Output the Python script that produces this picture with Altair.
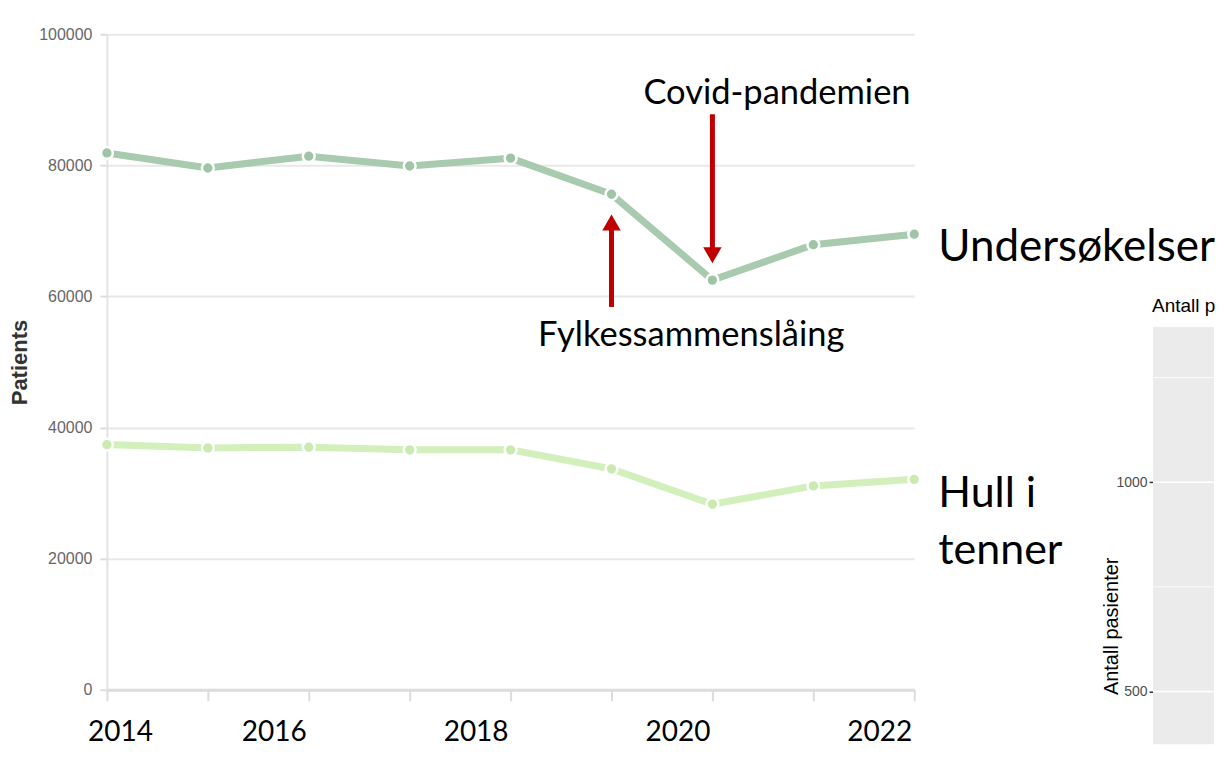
import altair as alt
import pandas as pd

# ---------------- data ----------------
years = [2014, 2015, 2016, 2017, 2018, 2019, 2020, 2021, 2022]
undersokelser = [81900, 79600, 81400, 79900, 81100, 75600, 62500, 67900, 69500]
hull_i_tenner = [37400, 36900, 37000, 36600, 36600, 33700, 28300, 31100, 32100]

series_names = ["Undersøkelser", "Hull i tenner"]
series_labels = ["Undersøkelser", "Hull i\ntenner"]
series_colors = ["#a8caae", "#d3efbb"]
point_colors = ["#9fc5a6", "#c9eab0"]

y_ticks = [0, 20000, 40000, 60000, 80000, 100000]
x_ticks = years

ann_texts = ["Covid-pandemien", "Fylkessammenslåing"]
ann_years = [2020.64, 2019.79]
ann_values = [89300, 52500]

arrow_years = [2020, 2019]
arrow_from = [87800, 58400]
arrow_to = [66300, 71300]
arrow_heads = ["triangle-down", "triangle-up"]

# fragment of a second (cropped) chart at the right edge
panel_title = ["Antall pasienter"]
panel_title_value = [1406]
panel_top = [1371]
panel_bottom = [374]
panel_domain = [399, 2070.4]
panel_ticks = [500, 1000]
panel_major = [500, 1000]
panel_minor = [750, 1250]

# ---------------- tables ----------------
rows = []
for name, label, vals in [(series_names[0], series_labels[0], undersokelser),
                          (series_names[1], series_labels[1], hull_i_tenner)]:
    for yr, v in zip(years, vals):
        rows.append({"year": yr, "value": v, "series": name, "label": label})
df = pd.DataFrame(rows)
last = df[df["year"] == years[-1]]

ann_df = pd.DataFrame({"text": ann_texts, "year": ann_years, "value": ann_values})
arrow_df = pd.DataFrame({"year": arrow_years, "v0": arrow_from, "v1": arrow_to, "head": arrow_heads})

FONT_T = "Lato"
FONT_A = "Liberation Sans"

x_enc = alt.X(
    "year:Q",
    scale=alt.Scale(domain=[years[0], years[-1]], nice=False, zero=False),
    axis=alt.Axis(
        values=x_ticks, format="d", title=None, grid=False,
        labelExpr="datum.value % 2 == 0 ? datum.label : ''",
        labelFont=FONT_T, labelFontSize=28, labelColor="black",
        labelAlign="center",
        labelOffset={"condition": {"test": "datum.value == 2014", "value": 13}, "value": -35},
        labelPadding=18, labelFlush=False, labelOverlap=False,
        domainColor="#dcdcdc", domainWidth=3,
        tickColor="#dcdcdc", tickWidth=2, tickSize=11,
    ),
)
y_enc = alt.Y(
    "value:Q",
    scale=alt.Scale(domain=[0, 100000], nice=False),
    axis=alt.Axis(
        values=y_ticks, format="d", title="Patients",
        titleFont=FONT_A, titleFontSize=22, titleFontWeight="bold", titleColor="#333333",
        titlePadding=7,
        labelFont=FONT_A, labelFontSize=16, labelColor="#666666", labelPadding=8,
        domainColor="#e3e3e3", domainWidth=2,
        tickColor="#dcdcdc", tickWidth=2, tickSize=7,
        grid=True, gridColor="#e8e8e8", gridWidth=2,
    ),
)
color_line = alt.Color("series:N", scale=alt.Scale(domain=series_names, range=series_colors), legend=None)

base = alt.Chart(df)
lines = base.mark_line(strokeWidth=7, strokeCap="round").encode(x=x_enc, y=y_enc, color=color_line)
points = base.mark_circle(size=140, opacity=1, stroke="white", strokeWidth=2.5).encode(
    x="year:Q", y="value:Q",
    fill=alt.Fill("series:N", scale=alt.Scale(domain=series_names, range=point_colors), legend=None),
)

lab1 = alt.Chart(last[last["series"] == series_names[0]]).mark_text(
    align="left", baseline="alphabetic", dx=24, dy=27, font=FONT_T, fontSize=44, color="black"
).encode(x="year:Q", y="value:Q", text="label:N")
lab2 = alt.Chart(last[last["series"] == series_names[1]]).mark_text(
    align="left", baseline="alphabetic", dx=24, dy=28, font=FONT_T, fontSize=43, color="black",
    lineBreak="\n", lineHeight=57
).encode(x="year:Q", y="value:Q", text="label:N")

ann = alt.Chart(ann_df).mark_text(
    align="center", baseline="alphabetic", font=FONT_T, fontSize=34.5, color="black"
).encode(x="year:Q", y="value:Q", text="text:N")

shafts = alt.Chart(arrow_df).mark_rule(color="#c00000", strokeWidth=5, strokeCap="butt").encode(
    x="year:Q", y="v0:Q", y2="v1:Q"
)
heads = alt.Chart(arrow_df).mark_point(filled=True, opacity=1, size=340, color="#c00000", strokeWidth=0).encode(
    x="year:Q", y="v1:Q",
    shape=alt.Shape("head:N", scale=alt.Scale(domain=arrow_heads, range=arrow_heads), legend=None),
)

main = alt.layer(lines, points, shafts, heads, ann, lab1, lab2).properties(width=808, height=656)

# ---------------- cropped right-hand chart ----------------
panel_df = pd.DataFrame({"x0": [0], "x1": [1], "top": panel_top, "bottom": panel_bottom,
                         "title": panel_title, "tv": panel_title_value})
grid_df = pd.DataFrame({
    "v": panel_major + panel_minor,
    "w": [1.6] * len(panel_major) + [0.8] * len(panel_minor),
    "x0": 0, "x1": 1,
})

px = alt.X("x0:Q", scale=alt.Scale(domain=[0, 1], nice=False, zero=False), axis=None)
py_scale = alt.Scale(domain=panel_domain, nice=False, zero=False)

rect = alt.Chart(panel_df).mark_rect(color="#ebebeb").encode(
    x=px, x2="x1:Q",
    y=alt.Y("top:Q", scale=py_scale, axis=alt.Axis(
        values=panel_ticks, format="d", title="Antall pasienter", grid=False, domain=False,
        labelFont=FONT_A, labelFontSize=14, labelColor="#4d4d4d", labelPadding=2,
        tickColor="#333333", tickSize=4, tickWidth=1.5,
        titleFont=FONT_A, titleFontSize=20, titleFontWeight="normal", titleColor="black",
        titleY=592, titleX=-42, titleBaseline="middle", titleAlign="center",
    )),
    y2="bottom:Q",
)
gridlines = alt.Chart(grid_df).mark_rule(color="white").encode(
    x=alt.X("x0:Q", scale=alt.Scale(domain=[0, 1], nice=False, zero=False), axis=None), x2="x1:Q",
    y=alt.Y("v:Q", scale=py_scale), strokeWidth=alt.StrokeWidth("w:Q", scale=None),
)
ptitle = alt.Chart(panel_df).mark_text(
    align="left", baseline="alphabetic", font=FONT_A, fontSize=19, color="black", dx=-1,
    limit=64, ellipsis="\u200b"
).encode(x="x0:Q", y=alt.Y("tv:Q", scale=py_scale), text="title:N")

panel = alt.layer(rect, gridlines, ptitle).properties(width=61, height=700)

chart = alt.hconcat(main, panel, spacing=239, bounds="flush").properties(
    padding={"left": 0, "top": 18, "right": 0, "bottom": 0},
    background="white",
).configure_view(strokeWidth=0, stroke="transparent")

chart.save("out.html", embed_options={"renderer": "svg", "actions": False})
